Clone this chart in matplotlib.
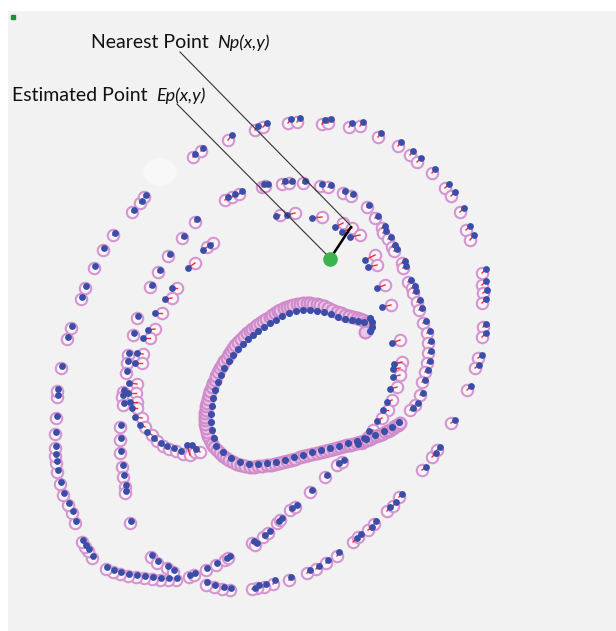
import matplotlib.pyplot as plt
from matplotlib.patches import Ellipse

# estimated points (pink rings) and their nearest points (blue dots), image-pixel units
outer_est = [(228, 140), (255, 130), (263, 127), (288, 123), (297, 122), (322, 124), (328, 123),
             (349, 127), (360, 126), (378, 137), (398, 146), (410, 155), (417, 162), (432, 173),
             (445, 188), (451, 196), (460, 212), (466, 230), (470, 240), (482, 273), (482, 285),
             (483, 293), (482, 303), (483, 327), (482, 337), (478, 358), (475, 368), (467, 390),
             (451, 423), (432, 457), (437, 450), (422, 470), (399, 497), (387, 511), (393, 506),
             (368, 530), (374, 524), (353, 542), (358, 537), (337, 556), (326, 563), (316, 569),
             (307, 573), (289, 580), (273, 584), (264, 587), (257, 588), (252, 589),
             (230, 590), (222, 589), (214, 587), (206, 585), (176, 580), (168, 580), (160, 580),
             (152, 579), (144, 578), (136, 577), (128, 576), (120, 574), (113, 572), (106, 569),
             (92, 558), (88, 551), (85, 547), (82, 542), (75, 523), (72, 513), (68, 505), (63, 495),
             (60, 484), (57, 472), (56, 463), (55, 456), (55, 448), (55, 434), (56, 418), (57, 397),
             (57, 391), (61, 368), (67, 339), (71, 328), (81, 299), (85, 288), (94, 268), (103, 250),
             (113, 235), (132, 212), (140, 203), (144, 197), (193, 157), (201, 151)]
outer_near = [(232, 135), (258, 126), (267, 123), (291, 119), (300, 118), (325, 120), (331, 119),
              (352, 123), (363, 122), (381, 133), (401, 142), (413, 151), (421, 158), (435, 169),
              (449, 184), (455, 192), (464, 208), (470, 226), (474, 235), (486, 269), (486, 281),
              (487, 290), (486, 299), (486, 324), (486, 333), (482, 355), (479, 365), (471, 386),
              (455, 420), (436, 453), (440, 447), (426, 467), (402, 494), (390, 507), (396, 502),
              (372, 527), (376, 521), (357, 538), (361, 534), (339, 552), (328, 560), (319, 566),
              (310, 570), (291, 577), (275, 580), (266, 584), (259, 585), (255, 588),
              (231, 588), (224, 587), (215, 585), (207, 582), (177, 578), (169, 578), (161, 578),
              (153, 577), (145, 576), (137, 575), (129, 574), (121, 572), (114, 570), (107, 567),
              (93, 556), (89, 549), (86, 545), (83, 540), (76, 521), (73, 511), (69, 503), (64, 493),
              (61, 482), (58, 470), (57, 461), (56, 454), (56, 446), (56, 432), (57, 416), (58, 395),
              (58, 389), (62, 366), (68, 337), (72, 326), (82, 297), (86, 286), (95, 266), (104, 248),
              (115, 233), (134, 210), (142, 201), (146, 195), (195, 154), (203, 148)]

mid_est = [(195, 222), (182, 238), (168, 256), (158, 272), (150, 287), (137, 318), (133, 335),
           (128, 355), (127, 363), (126, 373), (123, 392), (122, 397), (123, 405), (120, 427),
           (120, 440), (120, 453), (122, 467), (123, 477), (125, 487), (125, 493), (130, 523),
           (151, 557), (157, 563), (167, 568), (173, 572), (189, 577), (194, 575), (206, 570),
           (216, 565), (225, 560), (228, 558),
           (252, 543), (255, 545), (263, 537), (268, 533), (277, 523), (280, 520), (290, 510),
           (295, 507), (310, 492), (325, 477), (337, 465), (342, 462),
           (225, 200), (232, 197), (239, 194), (262, 187), (265, 186), (282, 184), (289, 183),
           (303, 183), (320, 186), (328, 187), (343, 193), (351, 196), (367, 207), (375, 218),
           (382, 228), (383, 233), (388, 239), (392, 247), (394, 251), (402, 263), (403, 268),
           (408, 282), (412, 288), (413, 293), (417, 302), (419, 310), (423, 323), (427, 333),
           (428, 343), (428, 353), (427, 363), (425, 372), (422, 382), (420, 395), (415, 405),
           (410, 410)]
mid_near = [(197, 219), (184, 236), (170, 254), (160, 270), (152, 285), (138, 316), (134, 333),
            (129, 353), (128, 361), (127, 371), (124, 390), (123, 395), (124, 403), (121, 425),
            (121, 438), (121, 451), (123, 465), (124, 475), (126, 485), (126, 491), (131, 521),
            (152, 555), (158, 561), (168, 566), (174, 570), (190, 575), (195, 573), (207, 568),
            (217, 563), (227, 558), (230, 556),
            (254, 541), (257, 543), (265, 535), (270, 531), (279, 521), (282, 518), (292, 508),
            (297, 505), (312, 490), (327, 475), (339, 463), (344, 460),
            (228, 197), (235, 194), (242, 191), (264, 184), (268, 184), (285, 181), (292, 181),
            (305, 181), (322, 184), (331, 185), (345, 191), (353, 194), (369, 205), (378, 216),
            (385, 226), (386, 231), (391, 237), (395, 245), (397, 249), (405, 261), (406, 266),
            (411, 280), (415, 286), (416, 291), (420, 300), (422, 308), (426, 321), (430, 331),
            (431, 341), (431, 351), (430, 361), (428, 370), (425, 380), (423, 393), (418, 403),
            (413, 408)]

hook_est = [(207, 247), (213, 243), (195, 263), (177, 288), (172, 298), (162, 313), (155, 329),
            (150, 338), (143, 354), (142, 363), (137, 384), (136, 393), (137, 402), (137, 408),
            (142, 418), (145, 427), (152, 435), (157, 441), (163, 446), (169, 449), (176, 451),
            (183, 454), (190, 455), (195, 452), (200, 452)]
hook_near = [(203, 250), (210, 245), (188, 268), (172, 288), (165, 299), (155, 313), (148, 330),
             (143, 338), (137, 353), (135, 363), (129, 383), (128, 393), (130, 402), (132, 408),
             (135, 417), (140, 425), (147, 432), (154, 438), (161, 443), (167, 446), (174, 448),
             (181, 451), (187, 445), (192, 445), (196, 449)]

arc_est = [(280, 215), (295, 213), (322, 217), (343, 223), (352, 228), (360, 235), (375, 255),
           (377, 265), (385, 285), (391, 305), (400, 340), (402, 362), (400, 368), (400, 375),
           (397, 387), (392, 400), (388, 410), (382, 418), (373, 430), (368, 437), (362, 443)]
arc_near = [(276, 216), (287, 215), (312, 218), (335, 227), (342, 232), (350, 237), (365, 260),
            (368, 267), (377, 288), (382, 307), (392, 343), (394, 364), (393, 369), (393, 377),
            (390, 389), (387, 402), (383, 410), (377, 421), (369, 431), (364, 438), (358, 444)]

# central loop: densely packed estimates, blue nearest points along the inner edge
loop_est = [(210, 440), (208, 436), (207, 432), (206, 428), (205, 424), (205, 420), (205, 417),
            (205, 413), (206, 410), (206, 406), (207, 403), (208, 399), (209, 395), (210, 391),
            (212, 387), (213, 383), (215, 380), (216, 376), (218, 372), (220, 368), (222, 365),
            (224, 361), (227, 358), (229, 354), (231, 351), (233, 348), (235, 345), (238, 342),
            (241, 339), (244, 336), (247, 333), (250, 331), (252, 329), (255, 327), (257, 325),
            (260, 323), (263, 321), (266, 319), (270, 317), (272, 315), (275, 313), (278, 311),
            (280, 310), (284, 308), (287, 307), (290, 306), (293, 305), (297, 304), (300, 304),
            (303, 303), (307, 303), (310, 303), (313, 304), (317, 304), (320, 305), (324, 306),
            (328, 308), (332, 310), (337, 312), (341, 313), (345, 315), (349, 316), (353, 317),
            (357, 318), (360, 319), (363, 320), (366, 322), (368, 324), (368, 327), (367, 330),
            (365, 332),
            (212, 444), (214, 447), (217, 450), (220, 453), (223, 456), (226, 458), (229, 460),
            (233, 462), (237, 464), (241, 465), (245, 466), (250, 467), (254, 467), (258, 466),
            (262, 466), (267, 465), (271, 465), (275, 464), (279, 463), (283, 462), (287, 461),
            (291, 460), (295, 459), (300, 457), (304, 456), (308, 455), (312, 454), (317, 453),
            (321, 452), (325, 451), (329, 450), (333, 449), (337, 448), (340, 447), (344, 446),
            (347, 445), (350, 445), (353, 444), (357, 443), (360, 442), (364, 441), (367, 440),
            (370, 439), (373, 437), (376, 436), (379, 435), (382, 434), (385, 432), (388, 431),
            (390, 430), (393, 428), (395, 426), (398, 425), (400, 423)]
loop_near = [(214, 438), (212, 430), (211, 422), (211, 414), (212, 406), (213, 398), (215, 390),
             (218, 382), (221, 375), (224, 368), (229, 361), (233, 355), (238, 349), (243, 344),
             (248, 339), (253, 335), (258, 331), (264, 327), (270, 323), (276, 320), (282, 316),
             (289, 313), (296, 311), (303, 310), (310, 310), (317, 311), (324, 312), (331, 314),
             (338, 317), (345, 319), (352, 320), (358, 321), (364, 322), (370, 318), (372, 322),
             (372, 327), (370, 331),
             (216, 446), (223, 452), (231, 458), (240, 462), (249, 464), (258, 464), (267, 463),
             (276, 462), (285, 460), (294, 457), (303, 455), (312, 452), (321, 450), (330, 448),
             (339, 446), (348, 443), (357, 441), (366, 439), (375, 435), (384, 431), (392, 427),
             (399, 422)]

est_point = (330, 259)
nearest_point = (351, 227)
near_label_anchor = (180, 52)
est_label_anchor = (177, 104)

pink = "#d595d0"
blue = "#3a4ea8"
red = "#ff2b2b"

fig = plt.figure(figsize=(6.16, 6.31), dpi=100)
ax = fig.add_axes([8 / 616, 0, 608 / 616, 620 / 631])
ax.set_facecolor("#f2f2f2")
ax.set_xlim(8, 616)
ax.set_ylim(631, 11)
ax.set_xticks([])
ax.set_yticks([])
for s in ax.spines.values():
    s.set_visible(False)

# faint whitish blob
ax.add_patch(Ellipse((160, 172), 32, 26, color="#f8f8f8", zorder=1))
# tiny green mark in the corner
ax.plot([13], [17], marker="s", ms=3, color="#1e8c3a", zorder=5)

paired = [(outer_est, outer_near), (mid_est, mid_near), (hook_est, hook_near),
          (arc_est, arc_near)]

for est, near in paired:
    ex, ey = zip(*est)
    nx, ny = zip(*near)
    ax.scatter(ex, ey, s=68, facecolors="#f9f4f9", edgecolors=pink, linewidths=1.5, zorder=2)
    for a, b, c, d in zip(ex, ey, nx, ny):
        ax.plot([a, c], [b, d], color=red, lw=1.0, zorder=3)
    ax.scatter(nx, ny, s=24, color=blue, linewidths=0, zorder=4)

lx, ly = zip(*loop_est)
ax.scatter(lx, ly, s=72, facecolors="#e9c6e6", edgecolors="#d08bcb", linewidths=1.6, zorder=2)
lnx, lny = zip(*loop_near)
ax.scatter(lnx, lny, s=26, color=blue, linewidths=0, zorder=4)

# connection from estimated point to its nearest point
ax.plot([est_point[0], nearest_point[0]], [est_point[1], nearest_point[1]],
        color="black", lw=1.8, zorder=6)
ax.plot(*est_point, marker="o", ms=9.5, color="#3cb44b", mec="#3cb44b", zorder=7)

# label leader lines
ax.plot([near_label_anchor[0], nearest_point[0] - 1], [near_label_anchor[1], nearest_point[1] - 2],
        color="#333333", lw=0.8, zorder=6)
ax.plot([est_label_anchor[0], est_point[0] - 2], [est_label_anchor[1], est_point[1] - 3],
        color="#333333", lw=0.8, zorder=6)

font = "Lato"
ax.text(91, 48, "Nearest Point", fontsize=14, family=font, va="baseline", ha="left", color="#111111")
ax.text(217, 48, "Np(x,y)", fontsize=13, family=font, style="italic", va="baseline", ha="left",
        color="#111111")
ax.text(12, 101, "Estimated Point", fontsize=14, family=font, va="baseline", ha="left", color="#111111")
ax.text(156, 101, "Ep(x,y)", fontsize=13, family=font, style="italic", va="baseline", ha="left",
        color="#111111")

fig.savefig("out.png", dpi=100, facecolor="white")
